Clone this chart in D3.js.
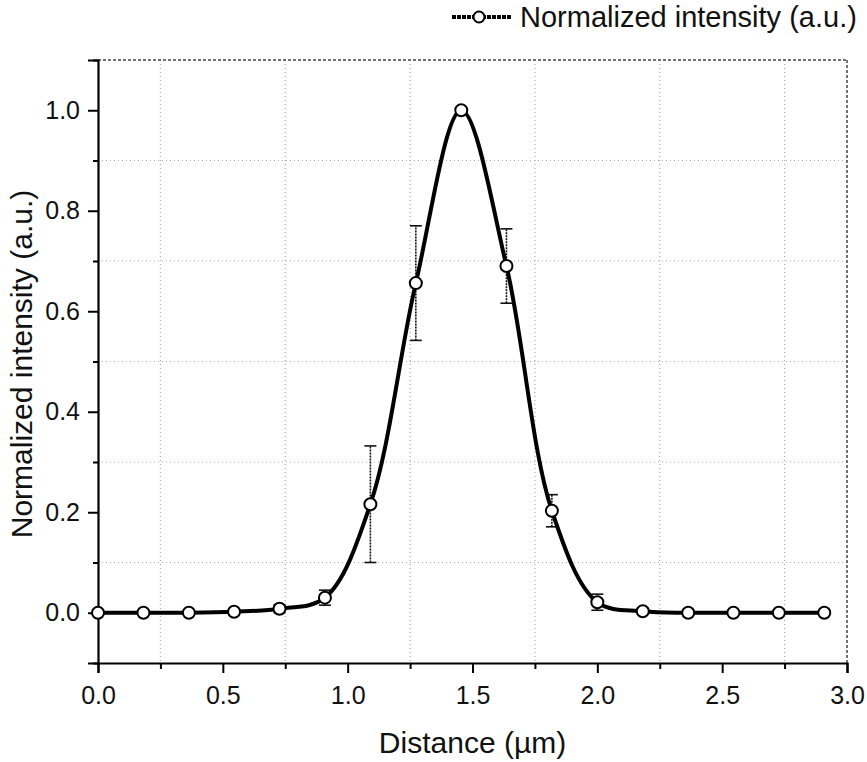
<!DOCTYPE html>
<html>
<head>
<meta charset="utf-8">
<style>
  body { margin: 0; padding: 0; background: #fff; }
  svg { display: block; font-family: "Liberation Sans", Arial, sans-serif; }
</style>
<script src="https://cdnjs.cloudflare.com/ajax/libs/d3/7.8.5/d3.min.js"></script>
</head>
<body>
<svg width="867" height="762"></svg>
<script>
  // distance (µm) of each sample
  const distance = [0, 0.182, 0.364, 0.545, 0.727, 0.909, 1.091, 1.273, 1.455,
                    1.636, 1.818, 2.0, 2.182, 2.364, 2.545, 2.727, 2.909];
  // normalized intensity (a.u.)
  const intensity = [0, 0, 0, 0.002, 0.008, 0.03, 0.216, 0.656, 1.0,
                     0.69, 0.203, 0.021, 0.003, 0, 0, 0, 0];
  // error bar half-heights
  const errors = [0.003, 0.003, 0.003, 0.006, 0.008, 0.015, 0.116, 0.114, 0.0,
                  0.074, 0.032, 0.016, 0.006, 0.006, 0.003, 0.003, 0.003];
  const xTicks = [0, 0.5, 1.0, 1.5, 2.0, 2.5, 3.0];
  const yTicks = [0, 0.2, 0.4, 0.6, 0.8, 1.0];
  const xMinor = [0.25, 0.75, 1.25, 1.75, 2.25, 2.75];
  const yMinor = [-0.1, 0.1, 0.3, 0.5, 0.7, 0.9, 1.1];
  const seriesName = "Normalized intensity (a.u.)";

  const svg = d3.select("svg");
  const m = { left: 98, right: 847, top: 60, bottom: 663 };

  const x = d3.scaleLinear().domain([0, 3]).range([m.left, m.right]);
  const y = d3.scaleLinear().domain([-0.1, 1.1]).range([m.bottom, m.top]);

  const points = distance.map((d, i) => ({ x: d, y: intensity[i], e: errors[i] }));

  // grid (at minor positions)
  const grid = svg.append("g");
  grid.selectAll(".gx").data(xMinor).enter().append("line")
    .attr("x1", d => x(d)).attr("x2", d => x(d))
    .attr("y1", m.top).attr("y2", m.bottom)
    .attr("stroke", "#aaa").attr("stroke-width", 1.2).attr("stroke-dasharray", "1,3");
  grid.selectAll(".gy").data(yMinor.filter(d => d > -0.1 && d < 1.1)).enter().append("line")
    .attr("x1", m.left).attr("x2", m.right)
    .attr("y1", d => y(d)).attr("y2", d => y(d))
    .attr("stroke", "#aaa").attr("stroke-width", 1.2).attr("stroke-dasharray", "1,3");

  // top and right frame, dashed
  svg.append("line").attr("x1", m.left).attr("x2", m.right).attr("y1", m.top).attr("y2", m.top)
    .attr("stroke", "#444").attr("stroke-width", 1.5).attr("stroke-dasharray", "3,2");
  svg.append("line").attr("x1", m.right).attr("x2", m.right).attr("y1", m.top).attr("y2", m.bottom)
    .attr("stroke", "#444").attr("stroke-width", 1.5).attr("stroke-dasharray", "3,2");

  // axes
  const xAxis = svg.append("g").attr("transform", `translate(0,${m.bottom})`)
    .call(d3.axisBottom(x).tickValues(xTicks).tickFormat(d3.format(".1f")).tickSize(10).tickPadding(8));
  svg.append("g").attr("transform", `translate(0,${m.bottom})`)
    .call(d3.axisBottom(x).tickValues(xMinor).tickFormat("").tickSize(6))
    .select(".domain").remove();
  const yAxis = svg.append("g").attr("transform", `translate(${m.left},0)`)
    .call(d3.axisLeft(y).tickValues(yTicks).tickFormat(d3.format(".1f")).tickSize(10).tickPadding(8));
  svg.append("g").attr("transform", `translate(${m.left},0)`)
    .call(d3.axisLeft(y).tickValues(yMinor).tickFormat("").tickSize(5))
    .select(".domain").remove();

  svg.selectAll(".domain").attr("stroke", "#000").attr("stroke-width", 2.2);
  svg.selectAll(".tick line").attr("stroke", "#000").attr("stroke-width", 2);
  svg.selectAll(".tick text").attr("font-size", 25).attr("fill", "#111")
    .attr("font-family", "'Liberation Sans', Arial, sans-serif");
  xAxis.selectAll(".tick text").attr("dy", "0.9em");

  // axis titles
  svg.append("text").attr("x", (m.left + m.right) / 2).attr("y", 753)
    .attr("text-anchor", "middle").attr("font-size", 30).attr("fill", "#111")
    .text("Distance (µm)");
  svg.append("text").attr("transform", "translate(32,364) rotate(-90)")
    .attr("text-anchor", "middle").attr("font-size", 30).attr("fill", "#111")
    .text("Normalized intensity (a.u.)");

  // error bars
  const eb = svg.append("g").attr("stroke", "#111").attr("stroke-width", 1.6);
  const withErr = points.filter(d => d.e > 0);
  eb.selectAll(".v").data(withErr).enter().append("line")
    .attr("x1", d => x(d.x)).attr("x2", d => x(d.x))
    .attr("y1", d => y(d.y - d.e)).attr("y2", d => y(d.y + d.e))
    .attr("stroke-dasharray", "2,1");
  eb.selectAll(".t").data(withErr).enter().append("line")
    .attr("x1", d => x(d.x) - 6).attr("x2", d => x(d.x) + 6)
    .attr("y1", d => y(d.y + d.e)).attr("y2", d => y(d.y + d.e));
  eb.selectAll(".b").data(withErr).enter().append("line")
    .attr("x1", d => x(d.x) - 6).attr("x2", d => x(d.x) + 6)
    .attr("y1", d => y(d.y - d.e)).attr("y2", d => y(d.y - d.e));

  // smooth curve
  const line = d3.line().x(d => x(d.x)).y(d => y(d.y)).curve(d3.curveCatmullRom.alpha(0.5));
  svg.append("path").datum(points).attr("d", line)
    .attr("fill", "none").attr("stroke", "#000").attr("stroke-width", 4)
    .attr("stroke-linejoin", "round");

  // markers
  svg.append("g").selectAll("circle").data(points).enter().append("circle")
    .attr("cx", d => x(d.x)).attr("cy", d => y(d.y)).attr("r", 6)
    .attr("fill", "#fff").attr("stroke", "#000").attr("stroke-width", 2);

  // legend
  const lg = svg.append("g").attr("transform", "translate(0,17)");
  lg.append("line").attr("x1", 452).attr("x2", 512).attr("y1", 0).attr("y2", 0)
    .attr("stroke", "#000").attr("stroke-width", 4).attr("stroke-dasharray", "4,1");
  lg.append("circle").attr("cx", 479).attr("cy", 0).attr("r", 5.5)
    .attr("fill", "#fff").attr("stroke", "#000").attr("stroke-width", 2);
  lg.append("text").attr("x", 520).attr("y", 10).attr("font-size", 29).attr("fill", "#111")
    .text(seriesName);
</script>
</body>
</html>
